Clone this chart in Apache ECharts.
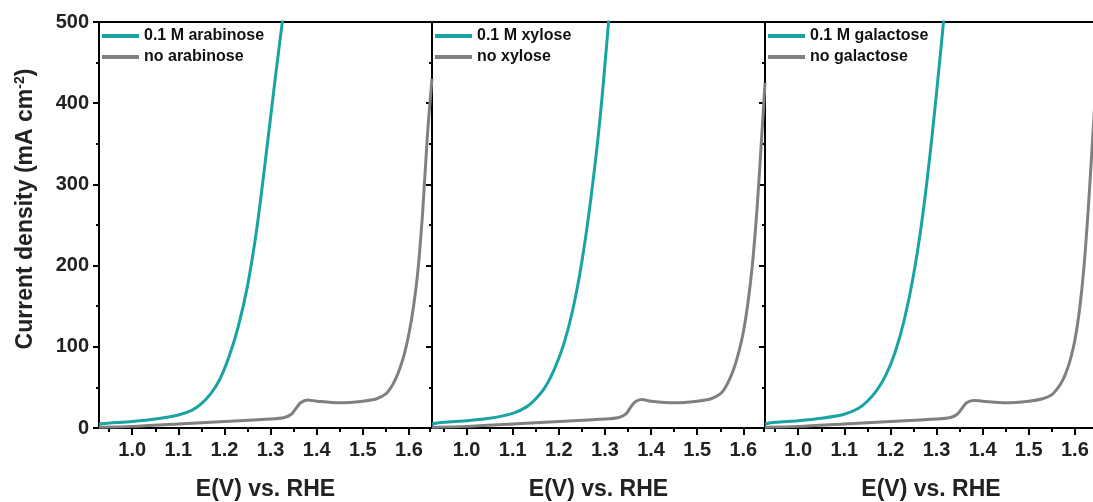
<!DOCTYPE html>
<html>
<head>
<meta charset="utf-8">
<script src="https://cdn.jsdelivr.net/npm/echarts@6/dist/echarts.min.js"></script>
<style>
html,body{margin:0;padding:0;background:#fff;}
#chart{width:1093px;height:502px;}
</style>
</head>
<body>
<div id="chart"></div>
<script>
// ---- Data ----
const panelSugars = ['arabinose', 'xylose', 'galactose'];

// Panel 1: arabinose
const xArabWith = [0.928, 0.95, 1.0, 1.05, 1.1, 1.13, 1.15, 1.17, 1.19, 1.21, 1.23, 1.25, 1.27, 1.29, 1.31, 1.33];
const yArabWith = [5, 6, 8, 11, 16, 22, 30, 42, 60, 88, 125, 175, 245, 335, 430, 520];
const xArabNo = [0.928, 1.0, 1.1, 1.2, 1.3, 1.33, 1.345, 1.355, 1.365, 1.38, 1.4, 1.45, 1.5, 1.53, 1.55, 1.56, 1.57, 1.58, 1.59, 1.6, 1.61, 1.62, 1.63, 1.64, 1.65];
const yArabNo = [1, 2, 5, 8, 11, 13, 17, 24, 31, 34.5, 33, 31, 33, 36, 42, 49, 59, 73, 91, 116, 150, 197, 268, 360, 430];

// Panel 2: xylose
const xXylWith = [0.925, 0.95, 1.0, 1.05, 1.1, 1.13, 1.15, 1.17, 1.19, 1.21, 1.23, 1.25, 1.27, 1.29, 1.31];
const yXylWith = [5, 7, 9, 12, 18, 26, 36, 50, 72, 102, 145, 205, 285, 385, 515];
const xXylNo = [0.925, 1.0, 1.1, 1.2, 1.3, 1.33, 1.345, 1.355, 1.365, 1.38, 1.4, 1.45, 1.5, 1.53, 1.55, 1.56, 1.57, 1.58, 1.59, 1.6, 1.61, 1.62, 1.63, 1.64, 1.647];
const yXylNo = [1, 2, 5, 8, 11, 13, 17, 25, 32, 35, 33, 31, 33, 36, 42, 49, 60, 74, 93, 118, 154, 203, 272, 360, 425];

// Panel 3: galactose
const xGalWith = [0.928, 0.95, 1.0, 1.05, 1.1, 1.13, 1.15, 1.17, 1.19, 1.21, 1.23, 1.25, 1.27, 1.29, 1.31, 1.32];
const yGalWith = [5, 7, 9, 12, 17, 24, 33, 46, 65, 93, 133, 188, 262, 358, 470, 530];
const xGalNo = [0.928, 1.0, 1.1, 1.2, 1.3, 1.33, 1.345, 1.355, 1.365, 1.38, 1.4, 1.45, 1.5, 1.53, 1.55, 1.56, 1.57, 1.58, 1.59, 1.6, 1.61, 1.62, 1.63, 1.64, 1.65];
const yGalNo = [1, 2, 5, 8, 11, 13, 17, 24, 31, 34, 33, 31, 33, 36, 41, 47, 55, 67, 84, 108, 145, 200, 278, 370, 460];

const xMajorTicks = [1.0, 1.1, 1.2, 1.3, 1.4, 1.5, 1.6];
const xMinorTicks = [0.95, 1.05, 1.15, 1.25, 1.35, 1.45, 1.55, 1.645];
const xTitle = 'E(V) vs. RHE';
const yTitle = 'Current density (mA cm';
const yTitleSup = '-2';

const withX = [xArabWith, xXylWith, xGalWith];
const withY = [yArabWith, yXylWith, yGalWith];
const noX = [xArabNo, xXylNo, xGalNo];
const noY = [yArabNo, yXylNo, yGalNo];

// ---- Layout ----
const FONT = 'Arial, "Liberation Sans", sans-serif';
const TEAL = '#1aa3a3';
const GREY = '#808080';
const panels = [
  {left: 99, width: 333, min: 0.928, max: 1.65},
  {left: 432, width: 333, min: 0.925, max: 1.647},
  {left: 765, width: 332, min: 0.928, max: 1.648}
];
const TOP = 22, HEIGHT = 406;

const zip = (xs, ys) => xs.map((x, i) => [x, ys[i]]);

const grid = [], xAxis = [], yAxis = [], series = [], legend = [];
panels.forEach((p, i) => {
  grid.push({left: p.left, top: TOP, width: p.width, height: HEIGHT, show: true,
    borderColor: '#000', borderWidth: 2, backgroundColor: 'transparent',
    containLabel: false, outerBoundsMode: 'none'});
  xAxis.push({
    type: 'value', gridIndex: i, min: p.min, max: p.max, position: 'bottom',
    axisLine: {show: true, onZero: false, lineStyle: {color: '#000', width: 2}},
    axisTick: {show: true, inside: false, length: 7, lineStyle: {color: '#000', width: 2}, customValues: xMajorTicks},
    axisLabel: {show: true, customValues: xMajorTicks, margin: 12, color: '#222',
      fontFamily: FONT, fontWeight: 'bold', fontSize: 20, formatter: v => v.toFixed(1)},
    splitLine: {show: false},
    name: xTitle, nameLocation: 'middle', nameGap: 50,
    nameTextStyle: {fontFamily: FONT, fontWeight: 'bold', fontSize: 23, color: '#222'}
  });
  xAxis.push({
    type: 'value', gridIndex: i, min: p.min, max: p.max, position: 'bottom',
    axisLine: {show: false, onZero: false},
    axisTick: {show: true, inside: false, length: 4, lineStyle: {color: '#000', width: 2},
      customValues: xMinorTicks.filter(v => v < p.max)},
    axisLabel: {show: false}, splitLine: {show: false}
  });
  yAxis.push({
    type: 'value', gridIndex: i, min: 0, max: 500, interval: 100,
    axisLine: {show: true, onZero: false, lineStyle: {color: '#000', width: 2}},
    axisTick: {show: true, inside: false, length: 6, lineStyle: {color: '#000', width: 2}},
    minorTick: {show: true, splitNumber: 2, length: 3, lineStyle: {color: '#000', width: 2}},
    axisLabel: {show: i === 0, margin: 10, color: '#222', fontFamily: FONT, fontWeight: 'bold', fontSize: 20},
    splitLine: {show: false}, minorSplitLine: {show: false}
  });
  const sugar = panelSugars[i];
  const nameWith = '0.1 M ' + sugar;
  const nameNo = 'no ' + sugar;
  series.push({
    name: nameNo, type: 'line', xAxisIndex: 2 * i, yAxisIndex: i,
    data: zip(noX[i], noY[i]), showSymbol: false, symbol: 'none',
    smooth: 0.3, clip: true,
    lineStyle: {color: GREY, width: 3}, itemStyle: {color: GREY}
  });
  series.push({
    name: nameWith, type: 'line', xAxisIndex: 2 * i, yAxisIndex: i,
    data: zip(withX[i], withY[i]), showSymbol: false, symbol: 'none',
    smooth: 0.3, clip: true,
    lineStyle: {color: TEAL, width: 3}, itemStyle: {color: TEAL}
  });
  legend.push({
    data: [nameWith, nameNo], orient: 'vertical', left: p.left + 3, top: 28,
    padding: 0,
    icon: 'rect', itemWidth: 37, itemHeight: 4, itemGap: 5,
    selectedMode: false,
    textStyle: {fontFamily: FONT, fontWeight: 'bold', fontSize: 16, color: '#111', lineHeight: 16}
  });
});

const chart = echarts.init(document.getElementById('chart'), null, {renderer: 'canvas'});
chart.setOption({
  animation: false,
  backgroundColor: '#fff',
  grid, xAxis, yAxis, series, legend,
  graphic: [{
    type: 'text', x: 26, y: 209, rotation: Math.PI / 2,
    style: {
      text: '{a|' + yTitle + '}{s|' + yTitleSup + '}{a|)}',
      align: 'center', verticalAlign: 'middle',
      rich: {
        a: {fontFamily: FONT, fontWeight: 'bold', fontSize: 23, fill: '#222', lineHeight: 26},
        s: {fontFamily: FONT, fontWeight: 'bold', fontSize: 14, fill: '#222', verticalAlign: 'top', lineHeight: 26, padding: [0, 0, 11, 0]}
      }
    }
  }]
});
</script>
</body>
</html>
